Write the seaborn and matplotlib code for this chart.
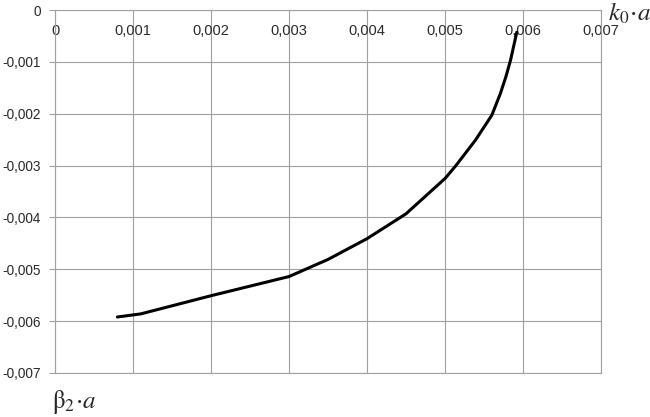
import matplotlib
matplotlib.use("Agg")
import matplotlib.pyplot as plt
import seaborn as sns
import pandas as pd

# data
k0a = [0.0008, 0.0011, 0.0020, 0.0030, 0.0035, 0.0040, 0.0045, 0.0050, 0.00514, 0.00539, 0.0056, 0.00571, 0.00578, 0.00584, 0.00592]
beta2a = [-0.00592, -0.00586, -0.00551, -0.00514, -0.00481, -0.00441, -0.00393, -0.00325, -0.00300, -0.00251, -0.00203, -0.00161, -0.00129, -0.00097, -0.00043]

x_ticks = [0, 0.001, 0.002, 0.003, 0.004, 0.005, 0.006, 0.007]
x_tick_labels = ["0", "0,001", "0,002", "0,003", "0,004", "0,005", "0,006", "0,007"]
y_ticks = [0, -0.001, -0.002, -0.003, -0.004, -0.005, -0.006, -0.007]
y_tick_labels = ["0", "-0,001", "-0,002", "-0,003", "-0,004", "-0,005", "-0,006", "-0,007"]

sns.set_theme(style="white")
plt.rcParams['font.family'] = ['Liberation Sans', 'DejaVu Sans']
plt.rcParams['mathtext.fontset'] = 'stix'

fig = plt.figure(figsize=(6.5, 4.17), dpi=100)
ax = fig.add_axes([55/650, 1-373/417, 546/650, 363/417])

df = pd.DataFrame({"k0a": k0a, "beta2a": beta2a})
sns.lineplot(data=df, x="k0a", y="beta2a", sort=False, color="black", linewidth=2.2, ax=ax)

gray = "#a0a0a0"
ax.set_xlim(0, 0.007)
ax.set_ylim(-0.007, 0)
ax.set_xticks(x_ticks)
ax.set_xticklabels(x_tick_labels)
ax.set_yticks(y_ticks)
ax.set_yticklabels(y_tick_labels)
ax.grid(True, color=gray, linewidth=0.8)
ax.set_axisbelow(True)
for s in ax.spines.values():
    s.set_color(gray)
    s.set_linewidth(0.8)

ax.xaxis.tick_top()
ax.tick_params(axis='x', top=True, bottom=False, labeltop=True, labelbottom=False,
               length=0, pad=-20, labelsize=10.5, labelcolor="#2a2a2a")
ax.tick_params(axis='y', left=True, length=4, color=gray, width=0.8, pad=6,
               labelsize=9.8, labelcolor="#2a2a2a")

ax.set_xlabel(r"$k_0\!\cdot\! a$", fontsize=18)
ax.xaxis.set_label_position('top')
ax.xaxis.set_label_coords(1.053, 0.955)
ax.xaxis.label.set_va('bottom')
ax.set_ylabel(r"$\mathrm{\beta}_2\!\cdot\! a$", fontsize=18, rotation=0)
ax.yaxis.set_label_coords(0.035, -0.08)
ax.yaxis.label.set_va('center')
ax.yaxis.label.set_ha('center')

fig.savefig("out.png", dpi=100)
